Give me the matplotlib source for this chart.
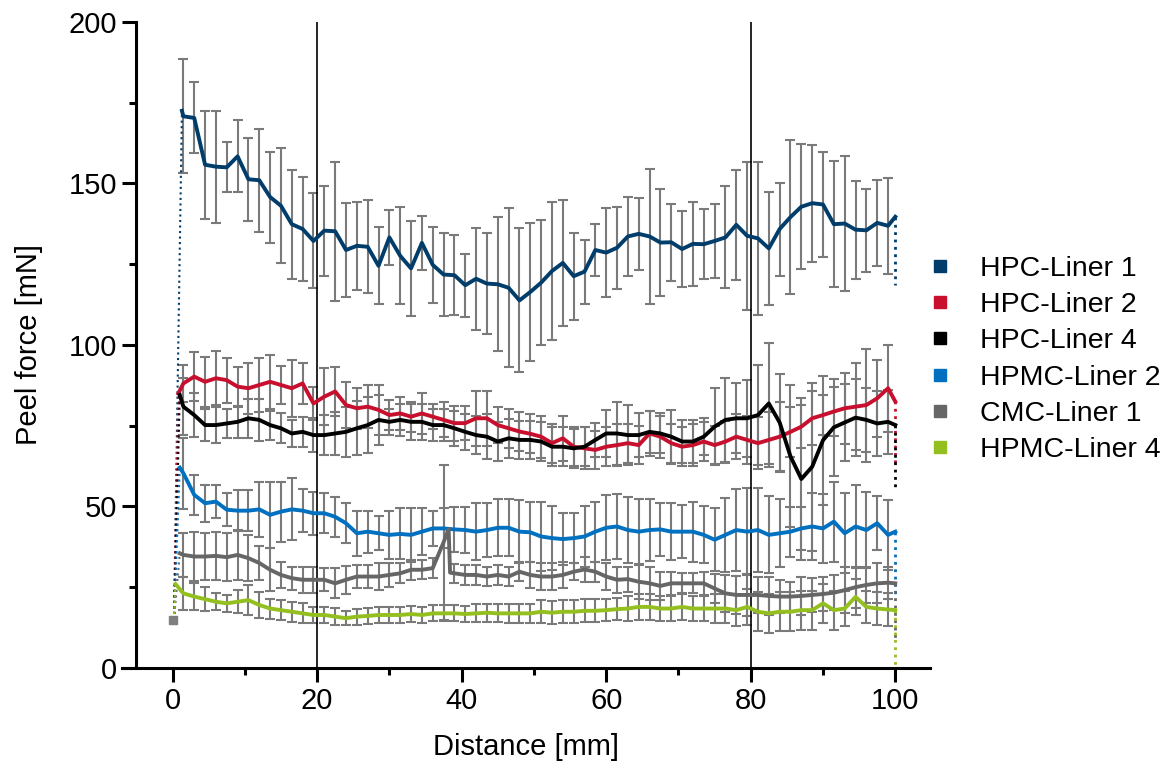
import numpy as np
import matplotlib.pyplot as plt
from matplotlib.lines import Line2D
from matplotlib.ticker import MultipleLocator

plt.rcParams['font.family'] = ['Liberation Sans', 'DejaVu Sans']

# Abzugskraft über den Weg, Mittelwert +/- SD alle 1.5 mm
distance = np.arange(1, 67) * 1.5

labels = ['HPC-Liner 1', 'HPC-Liner 2', 'HPC-Liner 4',
          'HPMC-Liner 2', 'CMC-Liner 1', 'HPMC-Liner 4']
colors = ['#003d6b', '#c8102e', '#000000', '#0070c0', '#666666', '#93c01f']

hpc1_mean = [170.8, 170.3, 155.8, 155.2, 155.0, 158.4, 151.3, 151.0, 145.8, 143.1,
             137.4, 135.9, 132.2, 135.4, 135.2, 129.4, 130.7, 130.4, 124.5, 133.3,
             127.6, 123.7, 131.6, 124.8, 121.8, 121.6, 118.5, 120.5, 119.0, 118.8,
             117.7, 113.8, 116.4, 119.3, 122.9, 125.4, 121.3, 122.7, 129.4, 128.6,
             130.1, 133.6, 134.4, 133.6, 131.7, 131.8, 129.7, 131.3, 131.2, 132.2,
             133.3, 137.2, 133.8, 133.0, 129.9, 135.9, 139.6, 142.8, 143.9, 143.5,
             137.4, 137.6, 135.7, 135.5, 137.8, 136.9]
hpc1_sd = [17.6, 11.0, 16.7, 17.3, 7.7, 11.1, 12.9, 16.0, 14.1, 17.8,
           16.9, 16.0, 14.7, 13.9, 21.6, 14.6, 13.7, 14.4, 11.9, 8.4,
           15.0, 14.8, 8.4, 11.7, 12.8, 12.3, 9.7, 15.8, 15.6, 20.8,
           24.6, 22.3, 21.5, 19.4, 21.4, 19.5, 13.5, 9.9, 8.2, 13.9,
           12.7, 12.3, 11.2, 20.9, 16.6, 12.0, 11.9, 12.9, 10.9, 11.4,
           15.8, 17.1, 23.0, 23.8, 17.4, 14.4, 23.8, 19.3, 18.1, 16.4,
           19.5, 20.8, 15.2, 12.9, 13.4, 14.9]

hpc2_mean = [88.1, 90.2, 88.6, 89.7, 89.1, 87.1, 86.6, 87.6, 88.6, 87.6,
             86.6, 88.1, 81.9, 84.0, 85.6, 81.4, 80.4, 80.9, 79.9, 78.3,
             78.8, 77.8, 78.8, 77.8, 76.8, 75.8, 75.8, 77.3, 77.3, 75.2,
             74.2, 73.2, 72.5, 71.6, 69.6, 71.1, 68.5, 68.0, 67.5, 68.5,
             69.0, 69.6, 69.0, 72.6, 71.6, 69.6, 68.5, 69.0, 70.1, 69.0,
             70.1, 71.6, 70.6, 69.6, 70.6, 71.6, 73.1, 74.7, 77.3, 78.3,
             79.4, 80.4, 80.9, 81.4, 83.5, 86.6]
hpc2_sd = [5.7, 7.7, 7.7, 8.3, 7.0, 6.2, 7.9, 8.3, 8.3, 6.0,
           8.8, 6.4, 5.0, 8.8, 7.7, 7.0, 6.3, 6.7, 7.7, 4.6,
           5.0, 4.6, 6.4, 3.9, 5.4, 5.4, 5.2, 8.6, 8.6, 5.5,
           6.0, 6.0, 6.0, 6.5, 6.0, 7.0, 6.0, 6.5, 6.0, 6.0,
           6.5, 6.0, 6.0, 7.0, 6.5, 6.0, 6.0, 6.5, 6.0, 6.0,
           6.5, 7.0, 7.5, 8.0, 8.5, 10.8, 7.7, 6.7, 8.3, 6.2,
           7.7, 11.0, 13.4, 17.5, 11.9, 13.4]

hpc4_mean = [80.9, 78.3, 75.2, 75.2, 75.7, 76.2, 77.3, 76.8, 75.2, 74.2,
             72.6, 73.1, 72.1, 72.1, 72.6, 73.1, 74.2, 75.2, 76.8, 76.2,
             76.8, 76.2, 76.2, 75.2, 75.2, 74.2, 73.1, 72.1, 71.6, 70.1,
             71.1, 70.6, 70.6, 70.1, 68.5, 68.5, 68.0, 68.5, 70.6, 72.6,
             72.6, 72.1, 72.1, 73.1, 72.6, 71.6, 70.1, 70.1, 71.6, 74.7,
             76.8, 77.3, 77.3, 78.3, 81.9, 76.0, 65.5, 58.5, 62.3, 70.5,
             74.5, 76.0, 77.5, 76.8, 75.7, 76.2]
hpc4_sd = [8.8, 6.8, 5.0, 5.7, 4.6, 5.0, 6.0, 6.5, 4.5, 4.6,
           4.1, 4.6, 5.2, 6.2, 6.7, 7.7, 8.3, 8.8, 7.7, 4.0,
           5.0, 5.5, 5.5, 5.0, 5.0, 5.5, 5.5, 6.0, 7.0, 6.0,
           6.0, 6.0, 6.0, 6.0, 6.0, 6.0, 6.0, 6.0, 5.2, 7.2,
           9.8, 9.3, 6.7, 6.5, 6.2, 8.3, 6.7, 6.7, 5.7, 11.9,
           12.9, 10.8, 11.9, 15.5, 18.6, 15.0, 22.0, 25.0, 26.0, 20.0,
           15.0, 12.0, 12.0, 10.0, 10.0, 10.0]

hpmc2_mean = [60.3, 53.6, 51.0, 51.5, 49.0, 48.7, 48.7, 49.1, 47.4, 48.4,
              49.1, 48.7, 47.9, 47.9, 46.8, 44.8, 41.7, 42.2, 41.7, 41.2,
              41.5, 41.2, 42.2, 43.2, 43.2, 42.9, 42.7, 42.2, 42.7, 43.4,
              43.4, 42.2, 42.0, 40.7, 40.2, 39.9, 40.2, 40.7, 42.2, 43.4,
              43.8, 42.7, 42.2, 42.7, 42.9, 42.2, 42.2, 42.2, 41.2, 39.7,
              41.2, 42.7, 42.2, 42.7, 41.2, 41.7, 42.2, 43.2, 43.8, 43.2,
              45.3, 41.7, 43.8, 42.7, 44.8, 41.2]
hpmc2_sd = [11.0, 6.2, 5.7, 5.2, 5.2, 6.4, 6.4, 8.6, 10.3, 9.3,
            9.6, 6.7, 6.7, 6.2, 6.2, 6.2, 7.0, 6.5, 5.2, 7.5,
            7.9, 8.3, 7.2, 5.5, 6.2, 7.0, 7.2, 8.8, 8.3, 8.8,
            8.8, 9.8, 9.3, 10.8, 9.8, 8.0, 7.7, 9.5, 9.3, 10.1,
            10.1, 10.3, 10.0, 9.5, 8.3, 8.8, 8.3, 9.3, 8.8, 9.8,
            11.4, 12.6, 13.4, 12.9, 11.9, 10.5, 7.7, 6.7, 10.3, 10.8,
            12.4, 12.4, 12.9, 11.9, 8.3, 10.8]

cmc1_mean = [35.0, 34.5, 34.5, 34.7, 34.3, 35.0, 34.0, 32.5, 30.4, 28.8,
             27.8, 27.3, 27.3, 27.3, 26.2, 27.3, 28.3, 28.3, 28.3, 28.8,
             29.3, 30.4, 30.4, 30.9, 38.9, 29.3, 28.8, 28.8, 28.3, 28.8,
             28.3, 29.8, 28.8, 28.3, 28.3, 28.8, 29.8, 30.5, 29.8, 28.3,
             27.3, 27.5, 26.7, 26.2, 25.4, 26.2, 26.2, 26.2, 26.2, 24.6,
             23.1, 22.6, 22.6, 22.6, 22.3, 22.1, 22.1, 22.3, 22.6, 22.9,
             23.3, 24.1, 25.0, 25.7, 26.2, 26.4]
cmc1_sd = [6.7, 7.7, 7.2, 7.5, 7.4, 7.7, 7.2, 5.2, 6.7, 4.1,
           3.6, 4.1, 4.1, 3.6, 4.6, 4.4, 3.6, 3.6, 4.1, 3.6,
           3.1, 3.1, 3.0, 3.0, 24.0, 3.0, 3.0, 3.0, 3.0, 3.0,
           3.0, 3.0, 4.0, 4.1, 4.1, 4.1, 2.6, 3.9, 3.1, 4.1,
           4.1, 3.9, 5.2, 5.2, 4.4, 3.6, 3.1, 3.1, 3.6, 4.6,
           5.7, 5.9, 6.5, 5.7, 6.0, 5.2, 4.6, 6.0, 5.2, 5.4,
           5.4, 7.2, 6.4, 5.7, 6.2, 5.0]

hpmc4_mean = [23.1, 22.1, 21.3, 20.5, 20.0, 20.5, 21.0, 19.5, 18.4, 17.9,
              17.4, 16.9, 16.4, 16.4, 15.9, 15.4, 15.9, 16.1, 16.4, 16.4,
              16.4, 16.7, 16.4, 16.9, 16.9, 16.9, 16.7, 16.9, 17.1, 16.9,
              16.9, 16.9, 16.9, 17.4, 17.1, 17.4, 17.4, 17.7, 17.7, 17.9,
              18.2, 18.4, 18.9, 18.9, 18.4, 18.4, 18.9, 18.4, 18.4, 18.4,
              18.4, 17.9, 18.9, 17.4, 16.9, 17.4, 17.4, 17.9, 17.9, 20.0,
              17.9, 18.4, 22.0, 18.9, 18.4, 18.1]
hpmc4_sd = [5.2, 4.1, 3.8, 2.6, 2.6, 3.6, 4.6, 4.1, 3.1, 3.1,
            3.1, 3.1, 2.6, 2.6, 2.6, 2.1, 2.5, 2.5, 2.5, 2.5,
            2.5, 2.5, 2.5, 2.5, 2.5, 2.5, 2.5, 2.8, 2.8, 2.8,
            3.0, 3.0, 3.0, 3.5, 3.5, 3.5, 3.5, 3.5, 3.5, 3.5,
            3.5, 4.0, 4.0, 4.0, 4.0, 4.0, 4.0, 4.0, 4.0, 4.5,
            4.5, 5.0, 5.5, 6.0, 6.0, 6.0, 6.0, 6.0, 6.0, 6.0,
            6.0, 5.5, 5.5, 5.0, 5.0, 5.0]

means = [hpc1_mean, hpc2_mean, hpc4_mean, hpmc2_mean, cmc1_mean, hpmc4_mean]
sds = [hpc1_sd, hpc2_sd, hpc4_sd, hpmc2_sd, cmc1_sd, hpmc4_sd]

# Anstieg am Start (Position und Wert des ersten Maximums)
start_value = 15.0
peak_x = [1.3, 0.8, 1.0, 1.0, 1.0, 0.4]
peak_y = [172.5, 85.0, 84.5, 62.0, 35.5, 26.0]

# letzter Messwert bei 100 mm und Abfall danach
end_y = [139.7, 82.5, 75.2, 42.2, 26.2, 17.9]
drop_y = [118.6, 62.3, 55.6, 22.1, 9.0, 0.0]

# Ausreißer CMC-Liner 1 bei ca. 38 mm
cmc_spike_x = [38.2, 38.4]
cmc_spike_y = [43.0, 29.5]

fig = plt.figure(figsize=(11.67, 7.66), dpi=100)
ax = fig.add_axes([0.1045, 0.128, 0.6924, 0.8433])

for m, s in zip(means, sds):
    ax.errorbar(distance, m, yerr=s, fmt='none', ecolor='#7a7a7a',
                elinewidth=1.5, capsize=3.6, capthick=1.5, zorder=2)

for i, m in enumerate(means):
    x = [peak_x[i]] + list(distance) + [100.0]
    y = [peak_y[i]] + list(m) + [end_y[i]]
    if i == 4:
        x = x[:26] + cmc_spike_x + x[26:]
        y = y[:26] + cmc_spike_y + y[26:]
    ax.plot([0.2, peak_x[i]], [start_value, peak_y[i]], ':', color=colors[i], lw=1.5, zorder=3)
    ax.plot(x, y, color=colors[i], lw=2.8, zorder=4)
    ax.plot([100, 100], [end_y[i], drop_y[i]], ':', color=colors[i], lw=2.0, zorder=3)

ax.plot(0, start_value, 's', color='#7f7f7f', ms=6, zorder=5)

ax.axvline(20, color='black', lw=1.2, zorder=3)
ax.axvline(80, color='black', lw=1.2, zorder=3)

ax.set_xlim(-7, 104.8)
ax.set_ylim(0, 200)
ax.spines['top'].set_visible(False)
ax.spines['right'].set_visible(False)
ax.spines['left'].set_position(('data', -5))
ax.spines['left'].set_linewidth(2.2)
ax.spines['bottom'].set_linewidth(2.2)

ax.xaxis.set_major_locator(MultipleLocator(20))
ax.xaxis.set_minor_locator(MultipleLocator(10))
ax.yaxis.set_major_locator(MultipleLocator(50))
ax.yaxis.set_minor_locator(MultipleLocator(25))
ax.tick_params(which='major', direction='out', length=10, width=2.2, labelsize=21, pad=4)
ax.tick_params(which='minor', direction='out', length=5, width=2.2)

ax.set_xlabel('Distance [mm]', fontsize=21, labelpad=13)
ax.set_ylabel('Peel force [mN]', fontsize=21, labelpad=18)

handles = [Line2D([], [], ls='none', marker='s', ms=8.5, color=c) for c in colors]
fig.legend(handles, labels, loc='upper left', bbox_to_anchor=(0.793, 0.666),
           frameon=False, fontsize=20.5, handlelength=1.0, handletextpad=0.9,
           labelspacing=0.36, borderpad=0, borderaxespad=0)

fig.savefig('out.png', dpi=100)
